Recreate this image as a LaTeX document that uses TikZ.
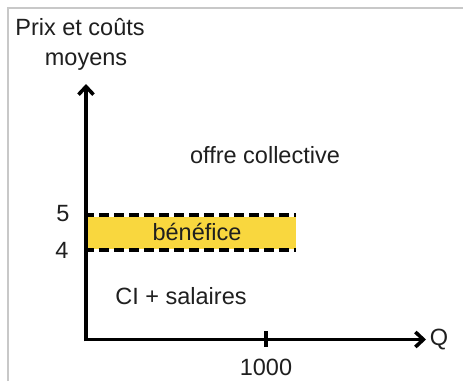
\documentclass[tikz,border=0pt]{standalone}
\usepackage{fontspec}
\setmainfont{Liberation Sans}
\usetikzlibrary{arrows.meta}
\definecolor{benef}{HTML}{F9D73E}
\definecolor{framegray}{HTML}{C8C8C8}
\begin{document}
\begin{tikzpicture}[x=1pt,y=-1pt,
  lbl/.style={font=\fontsize{23.5}{26}\selectfont, text=black!88, inner sep=0pt},
  axis/.style={line width=3.6pt, -{Straight Barb[length=8pt,width=15pt,line width=3.6pt]}},
  dashline/.style={line width=3.6pt, dash pattern=on 10pt off 5pt},
]
\useasboundingbox (0,0) rectangle (463,381);
\fill[white] (0,0) rectangle (463,381);
\draw[framegray, line width=1.2pt] (8,381) -- (8,8) -- (463,8);
% yellow band
\fill[benef] (88,217) rectangle (296,249);
% axes
\coordinate (ytop) at (86,84);
\coordinate (xend) at (426,339.5);
\draw[axis] (86,341.3) -- (ytop);
\draw[axis] (84.2,339.5) -- (xend);
% tick
\coordinate (t1) at (266,331);
\coordinate (t2) at (266,347);
\draw[line width=3.6pt] (t1) -- (t2);
% dashed lines
\coordinate (d5a) at (84,215);
\coordinate (d5b) at (296,215);
\coordinate (d4a) at (84,250);
\coordinate (d4b) at (296,250);
\draw[dashline] (d5a) -- (d5b);
\draw[dashline] (d4a) -- (d4b);
% labels
\node[lbl] (ylab1) at (80,27) {Prix et coûts};
\node[lbl] (ylab2) at (86,62) {moyens};
\node[lbl] (q) at (439,340) {Q};
\node[lbl] (x1000) at (266,367) {1000};
\node[lbl] (five) at (63,214) {5};
\node[lbl] (four) at (62,250) {4};
\node[lbl] (offre) at (265,155) {offre collective};
\node[lbl] (benefice) at (197,232) {bénéfice};
\node[lbl] (ci) at (181,296) {CI + salaires};
\end{tikzpicture}
\end{document}
